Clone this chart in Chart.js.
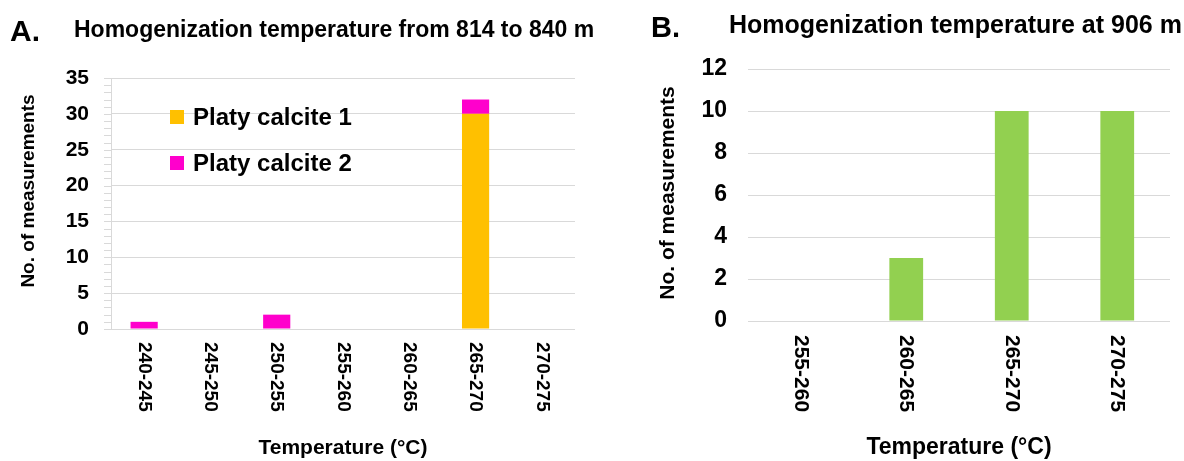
<!DOCTYPE html>
<html>
<head>
<meta charset="utf-8">
<script src="https://cdn.jsdelivr.net/npm/chart.js@4"></script>
<style>
  body { margin: 0; background: #fff; }
  #wrap { position: relative; width: 1184px; height: 461px; overflow: hidden; font-family: "Liberation Sans", Arial, sans-serif; }
  canvas { position: absolute; top: 0; }
  .lbl { position: absolute; font-weight: bold; line-height: 1; white-space: nowrap; color: #000; }
</style>
</head>
<body>
<div id="wrap">
  <canvas id="chartA" width="600" height="461" style="left:0"></canvas>
  <canvas id="chartB" width="584" height="461" style="left:600px"></canvas>
  <div class="lbl" style="left:10px;top:16px;font-size:30px">A.</div>
  <div class="lbl" style="left:74px;top:18px;font-size:23px">Homogenization temperature from 814 to 840 m</div>
  <div class="lbl" style="left:651px;top:13px;font-size:29px">B.</div>
  <div class="lbl" style="left:729px;top:12px;font-size:25px">Homogenization temperature at 906 m</div>
</div>
<script>
// panel A: 814-840 m
const rangesA = ['240-245', '245-250', '250-255', '255-260', '260-265', '265-270', '270-275'];
const platyCalcite1 = [0, 0, 0, 0, 0, 30, 0];
const platyCalcite2 = [1, 0, 2, 0, 0, 2, 0];

// panel B: 906 m
const rangesB = ['255-260', '260-265', '265-270', '270-275'];
const counts906 = [0, 3, 10, 10];

const FONT = '"Liberation Sans", Arial, sans-serif';
Chart.defaults.font.family = FONT;
Chart.defaults.color = '#000';

// category labels read top-to-bottom, so they are drawn here
const rotatedXLabels = {
    id: 'rotatedXLabels',
    afterDraw(chart, args, opts) {
        const ctx = chart.ctx;
        const x = chart.scales.x;
        ctx.save();
        ctx.font = `bold ${opts.size}px ${FONT}`;
        ctx.fillStyle = '#000';
        ctx.textAlign = 'left';
        ctx.textBaseline = 'middle';
        x.getLabels().forEach((lab, i) => {
            ctx.save();
            ctx.translate(x.getPixelForTick(i), chart.chartArea.bottom + opts.gap);
            ctx.rotate(Math.PI / 2);
            ctx.fillText(lab, 0, 0);
            ctx.restore();
        });
        ctx.restore();
    }
};

// y title sits a bit above the middle of the axis in the original
const yTitle = {
    id: 'yTitle',
    afterDraw(chart, args, opts) {
        const ctx = chart.ctx;
        ctx.save();
        ctx.font = `bold ${opts.size}px ${FONT}`;
        ctx.fillStyle = '#000';
        ctx.textAlign = 'center';
        ctx.textBaseline = 'middle';
        ctx.translate(opts.x, opts.y);
        ctx.rotate(-Math.PI / 2);
        ctx.fillText(opts.text, 0, 0);
        ctx.restore();
    }
};

const minorTicks = {
    id: 'minorTicks',
    beforeDatasetsDraw(chart, args, opts) {
        if (!opts.show) return;
        const ctx = chart.ctx;
        const y = chart.scales.y;
        const left = chart.chartArea.left;
        ctx.save();
        ctx.strokeStyle = '#d9d9d9';
        ctx.lineWidth = 1;
        for (let v = y.min; v <= y.max; v++) {
            const py = Math.round(y.getPixelForValue(v)) + 0.5;
            ctx.beginPath();
            ctx.moveTo(left - 7, py);
            ctx.lineTo(left, py);
            ctx.stroke();
        }
        ctx.restore();
    }
};

const insideLegend = {
    id: 'insideLegend',
    afterDraw(chart, args, opts) {
        if (!opts.show) return;
        const ctx = chart.ctx;
        ctx.save();
        ctx.font = `bold ${opts.size}px ${FONT}`;
        ctx.textBaseline = 'middle';
        ctx.textAlign = 'left';
        chart.data.datasets.forEach((ds, i) => {
            const cy = opts.y + i * opts.rowGap;
            ctx.fillStyle = ds.backgroundColor;
            ctx.fillRect(opts.x, cy - 7, 14, 14);
            ctx.fillStyle = '#000';
            ctx.fillText(ds.label, opts.x + 23, cy + 1);
        });
        ctx.restore();
    }
};

new Chart(document.getElementById('chartA').getContext('2d'), {
    type: 'bar',
    data: {
        labels: rangesA,
        datasets: [
            { label: 'Platy calcite 1', data: platyCalcite1, backgroundColor: '#FFC000' },
            { label: 'Platy calcite 2', data: platyCalcite2, backgroundColor: '#FF00CC' }
        ]
    },
    options: {
        responsive: false,
        animation: false,
        categoryPercentage: 1,
        barPercentage: 0.41,
        layout: { padding: { left: 10, right: 25, top: 78, bottom: 0 } },
        scales: {
            x: {
                stacked: true,
                grid: { display: false },
                border: { display: false },
                ticks: { display: false },
                title: { display: true, text: 'Temperature (°C)', font: { size: 21, weight: 'bold' }, padding: 0 },
                afterFit: s => { s.height = 132; }
            },
            y: {
                stacked: true,
                min: 0,
                max: 35,
                ticks: { stepSize: 5, padding: 22, font: { size: 21, weight: 'bold' } },
                grid: { color: '#d9d9d9', drawTicks: false },
                border: { display: true, color: '#d9d9d9' },
                afterFit: s => { s.width = 101; }
            }
        },
        plugins: {
            legend: { display: false },
            tooltip: { enabled: false },
            rotatedXLabels: { size: 19, gap: 13 },
            yTitle: { text: 'No. of measurements', size: 19, x: 29, y: 191 },
            minorTicks: { show: true },
            insideLegend: { show: true, x: 170, y: 117, rowGap: 46, size: 24 }
        }
    },
    plugins: [rotatedXLabels, yTitle, minorTicks, insideLegend]
});

new Chart(document.getElementById('chartB').getContext('2d'), {
    type: 'bar',
    data: {
        labels: rangesB,
        datasets: [
            { label: 'Homogenization temperature at 906 m', data: counts906, backgroundColor: '#92D050' }
        ]
    },
    options: {
        responsive: false,
        animation: false,
        categoryPercentage: 1,
        barPercentage: 0.32,
        layout: { padding: { left: 40, right: 14, top: 69, bottom: 0 } },
        scales: {
            x: {
                grid: { display: false },
                border: { display: false },
                ticks: { display: false },
                title: { display: true, text: 'Temperature (°C)', font: { size: 23, weight: 'bold' }, padding: 0 },
                afterFit: s => { s.height = 140; }
            },
            y: {
                min: 0,
                max: 12,
                ticks: { stepSize: 2, padding: 21, font: { size: 23, weight: 'bold' } },
                grid: { color: '#d9d9d9', drawTicks: false },
                border: { display: false },
                afterFit: s => { s.width = 108; }
            }
        },
        plugins: {
            legend: { display: false },
            tooltip: { enabled: false },
            rotatedXLabels: { size: 21, gap: 14 },
            yTitle: { text: 'No. of measurements', size: 21, x: 68, y: 193 },
            minorTicks: { show: false },
            insideLegend: { show: false }
        }
    },
    plugins: [rotatedXLabels, yTitle, minorTicks, insideLegend]
});
</script>
</body>
</html>
